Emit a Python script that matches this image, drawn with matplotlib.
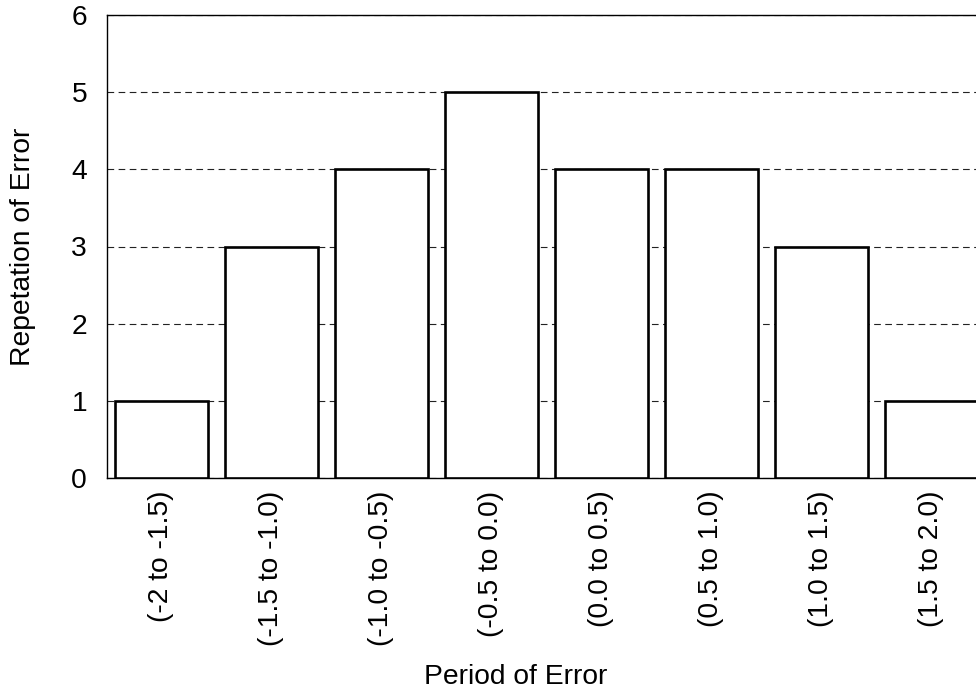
import matplotlib
matplotlib.use("Agg")
import matplotlib.pyplot as plt

plt.rcParams['font.family'] = ['Liberation Sans', 'DejaVu Sans']

# data
periods = ['(-2 to -1.5)', '(-1.5 to -1.0)', '(-1.0 to -0.5)', '(-0.5 to 0.0)',
           '(0.0 to 0.5)', '(0.5 to 1.0)', '(1.0 to 1.5)', '(1.5 to 2.0)']
repetition = [1, 3, 4, 5, 4, 4, 3, 1]
y_ticks = [0, 1, 2, 3, 4, 5, 6]

W, H = 976, 691
fig = plt.figure(figsize=(W / 100, H / 100), dpi=100)
# plot area runs slightly past the right edge of the picture
ax_w, ax_h = 880, 463
ax = fig.add_axes([106.5 / W, (H - 478) / H, ax_w / W, ax_h / H])

x = range(len(periods))
ax.bar(x, repetition, width=0.845, color='white', edgecolor='black',
       linewidth=1.9, zorder=3)

fs = 20.3
ax.set_xlim(-0.5, len(periods) - 0.5)
ax.set_ylim(0, 6)
ax.set_yticks(y_ticks)
ax.set_xticks(list(x))
ax.set_xticklabels(periods, rotation=90)
ax.tick_params(axis='both', length=0, labelsize=fs)
ax.tick_params(axis='y', pad=14)
ax.tick_params(axis='x', pad=9)

ax.yaxis.grid(True, linestyle=(0, (6, 4)), color='#222222', linewidth=0.8, zorder=0)
ax.set_axisbelow(True)
for s in ax.spines.values():
    s.set_linewidth(1.0)

ax.set_ylabel('Repetation of Error', fontsize=fs)
ax.yaxis.set_label_coords((36 - 106.5) / ax_w, 0.5)
ax.set_xlabel('Period of Error', fontsize=fs)
ax.xaxis.set_label_coords((516 - 106.5) / ax_w, -(664 - 478) / ax_h)

fig.savefig('out.png', dpi=100)
